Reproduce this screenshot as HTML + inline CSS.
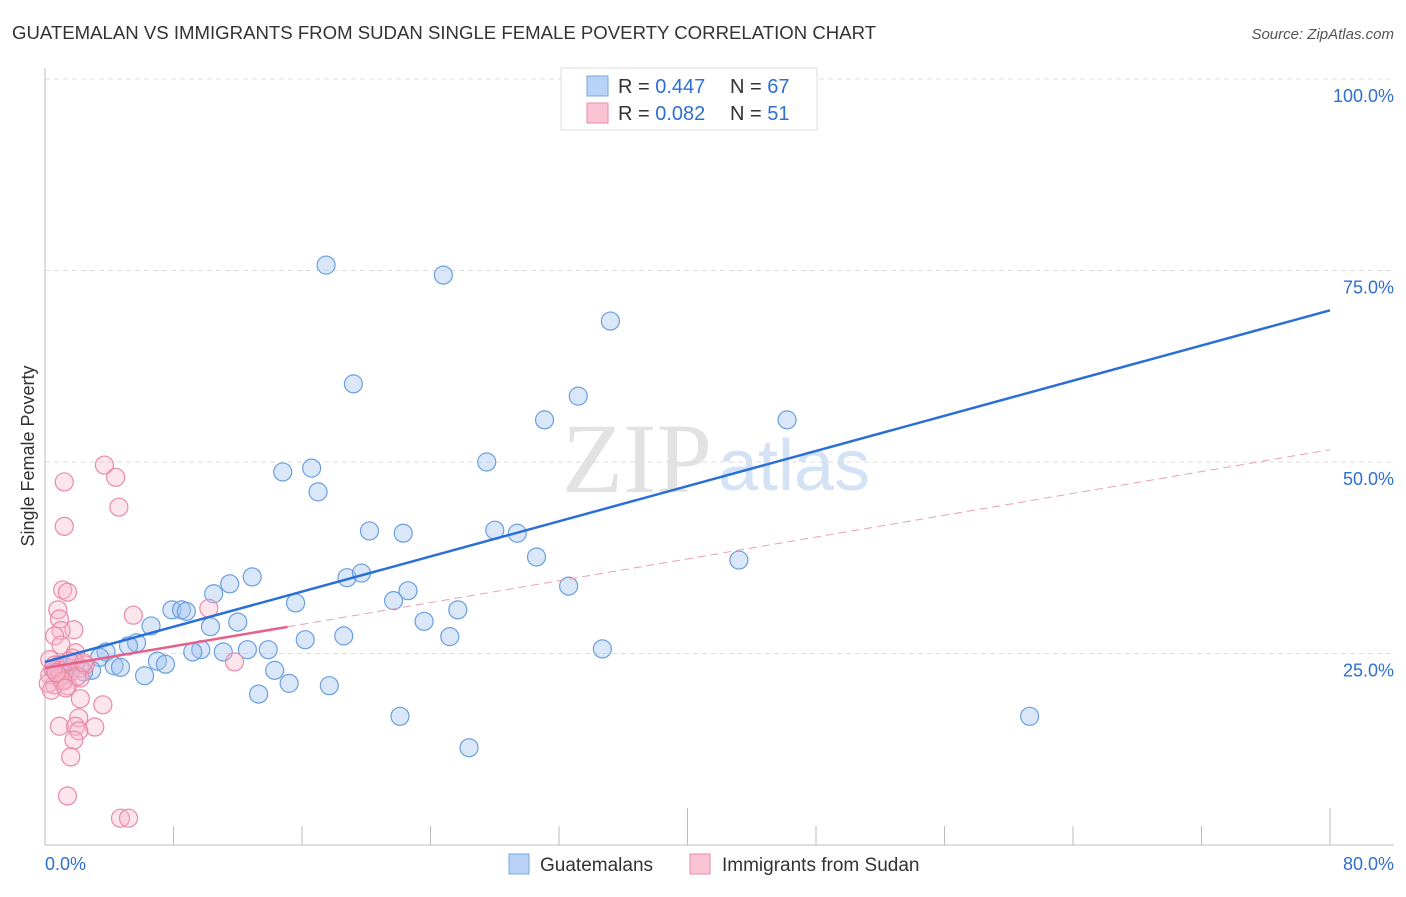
<!DOCTYPE html>
<html><head><meta charset="utf-8"><style>
body{margin:0;background:#fff;font-family:"Liberation Sans",sans-serif}
svg text{font-family:"Liberation Sans",sans-serif}
</style></head><body>
<svg id="chart" width="1406" height="892" xmlns="http://www.w3.org/2000/svg">
<text x="12" y="39" font-size="18.6" fill="#333">GUATEMALAN VS IMMIGRANTS FROM SUDAN SINGLE FEMALE POVERTY CORRELATION CHART</text>
<text x="1394" y="39" font-size="15" fill="#555" font-style="italic" text-anchor="end">Source: ZipAtlas.com</text>
<text x="712" y="492" font-size="100" fill="#e2e2e2" style="font-family:'Liberation Serif',serif" text-anchor="end">ZIP</text>
<text x="718" y="490" font-size="72" fill="#d3e2f4">atlas</text>
<text transform="translate(34,456) rotate(-90)" font-size="18" fill="#333" text-anchor="middle">Single Female Poverty</text>
<g id="grid"></g><g id="axes"></g><g id="pts"></g><g id="lines"></g>
<g>
<rect x="561" y="68" width="256" height="62" fill="#fff" stroke="#ddd"/>
<rect x="587" y="76" width="21" height="20" fill="#b8d3f5" stroke="#7aa7e0"/>
<rect x="587" y="103" width="21" height="20" fill="#fac4d4" stroke="#e88aa8"/>
<text x="618" y="93" font-size="20" fill="#333">R = <tspan fill="#2f6fd0">0.447</tspan></text>
<text x="730" y="93" font-size="20" fill="#333">N = <tspan fill="#2f6fd0">67</tspan></text>
<text x="618" y="120" font-size="20" fill="#333">R = <tspan fill="#2f6fd0">0.082</tspan></text>
<text x="730" y="120" font-size="20" fill="#333">N = <tspan fill="#2f6fd0"> 51</tspan></text>
</g>
<g>
<rect x="509" y="854" width="20" height="20" fill="#b8d3f5" stroke="#7aa7e0"/>
<text x="540" y="871" font-size="19" fill="#333">Guatemalans</text>
<rect x="690" y="854" width="20" height="20" fill="#fac4d4" stroke="#e88aa8"/>
<text x="722" y="871" font-size="19" fill="#333">Immigrants from Sudan</text>
</g>
<text x="45" y="870" font-size="18" fill="#2f6fd0">0.0%</text>
<text x="1394" y="870" font-size="18" fill="#2f6fd0" text-anchor="end">80.0%</text>
</svg>
<script>
const yTicks=[25,50,75,100];
const yTickLabels=["25.0%","50.0%","75.0%","100.0%"];
const blueX=[17.5,24.8,35.2,19.2,33.2,31.1,46.2,27.5,14.8,16.6,17.0,20.2,22.3,28.0,29.4,30.6,43.2,12.9,11.5,18.8,19.7,10.5,22.6,32.6,21.7,15.6,7.9,8.5,8.8,25.7,6.6,10.3,12.0,23.6,16.2,18.6,25.2,5.7,5.2,3.8,9.7,9.2,11.1,12.6,13.9,34.7,3.4,7.0,7.5,4.3,4.7,14.3,2.9,2.4,6.2,15.2,17.7,13.3,22.1,61.3,26.4,38.2,0.9,1.6,0.6,1.9,1.2];
const blueY=[75.7,74.4,68.4,60.2,58.6,55.5,55.5,50.0,48.7,49.2,46.1,41.0,40.7,41.1,40.7,37.6,37.2,35.0,34.1,34.9,35.5,32.8,33.2,33.8,31.9,31.6,30.7,30.7,30.5,30.7,28.6,28.5,29.1,29.2,26.8,27.3,27.2,26.4,26.0,25.2,25.5,25.2,25.2,25.5,25.5,25.6,24.5,24.0,23.6,23.4,23.2,22.8,22.8,22.6,22.1,21.1,20.8,19.7,16.8,16.8,12.7,99.9,23.5,23.1,22.8,23.9,22.2];
const pinkX=[3.7,4.4,1.2,4.6,1.2,1.1,1.4,5.5,10.2,0.8,0.9,1.8,1.0,0.6,1.0,1.9,1.7,11.8,0.3,0.6,0.9,0.3,1.2,0.6,1.6,2.2,2.5,0.9,0.2,0.4,2.2,1.4,2.2,3.6,2.1,0.9,3.1,1.9,2.1,1.8,1.6,1.4,4.7,5.2,1.5,0.5,2.0,1.1,0.7,2.4,1.3];
const pinkY=[49.6,48.0,47.4,44.1,41.6,33.3,33.0,30.0,30.9,30.7,29.5,28.1,28.0,27.3,26.1,25.1,24.4,23.9,24.2,23.5,22.8,22.2,21.5,20.9,22.6,23.1,23.5,21.9,21.1,20.2,21.8,20.8,19.1,18.3,16.6,15.5,15.4,15.5,14.9,13.7,11.5,6.4,3.5,3.5,24.0,23.0,22.0,21.4,22.5,23.8,20.5];
const blueTrend=[23.9,69.8];
const pinkTrend=[23.1,51.6];
const pinkSolidEnd=15.1;
const X=v=>45+v*1285/80, Y=v=>845-v*766/100;
const NS="http://www.w3.org/2000/svg";
function mk(tag,attrs,parent){const e=document.createElementNS(NS,tag);for(const k in attrs)e.setAttribute(k,attrs[k]);document.getElementById(parent).appendChild(e);return e;}
yTicks.forEach((t,i)=>{
 const l=mk('line',{x1:45,x2:1394,y1:Y(t),y2:Y(t),stroke:'#ddd','stroke-dasharray':'5,4'},'grid');
 
 
 const tx=mk('text',{x:1394,y:Y(t)+23,'font-size':18,fill:'#2f6fd0','text-anchor':'end'},'grid');
 tx.textContent=yTickLabels[i];
 
 
});
const ax=mk('line',{x1:45,x2:45,y1:68,y2:845,stroke:'#bbb'},'axes');


const bx=mk('line',{x1:45,x2:1394,y1:845,y2:845,stroke:'#bbb'},'axes');


for(let i=0;i<=10;i++){const v=i*8;const t=mk('line',{x1:X(v),x2:X(v),y1:(i==5||i==10)?808:826,y2:845,stroke:'#bbb'},'axes');
 
 }
blueX.forEach((v,i)=>{const c=mk('circle',{cx:X(v),cy:Y(blueY[i]),r:9,fill:'rgba(160,196,240,0.4)',stroke:'#6a9fe0','stroke-width':1.2},'pts');
 
 });
pinkX.forEach((v,i)=>{const c=mk('circle',{cx:X(v),cy:Y(pinkY[i]),r:9,fill:'rgba(248,180,200,0.35)',stroke:'#e88aa8','stroke-width':1.2},'pts');
 
 });
const pv=x=>pinkTrend[0]+(pinkTrend[1]-pinkTrend[0])*x/80;
const b=mk('line',{x1:X(0),y1:Y(blueTrend[0]),x2:X(80),y2:Y(blueTrend[1]),stroke:'#2a6fd6','stroke-width':2.5},'lines');


const p1=mk('line',{x1:X(0),y1:Y(pv(0)),x2:X(pinkSolidEnd),y2:Y(pv(pinkSolidEnd)),stroke:'#e8608a','stroke-width':2.5},'lines');


const p2=mk('line',{x1:X(pinkSolidEnd),y1:Y(pv(pinkSolidEnd)),x2:X(80),y2:Y(pv(80)),stroke:'#e8a0b8','stroke-width':1,'stroke-dasharray':'8,5'},'lines');


</script>
</body></html>
